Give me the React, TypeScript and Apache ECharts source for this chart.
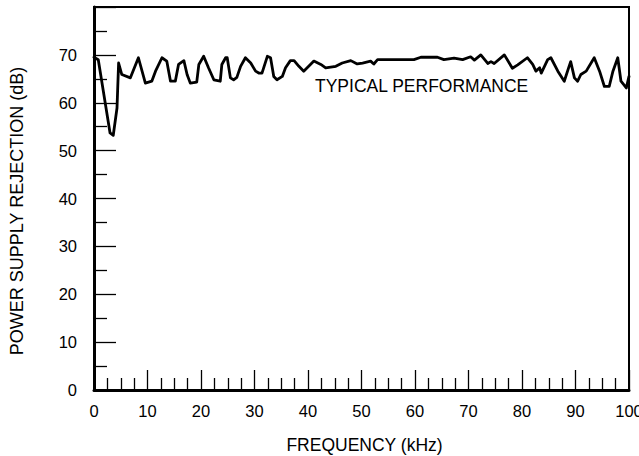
import React, { useEffect, useRef } from "react";
import * as echarts from "echarts";

const freqKHz = [
  0, 0.8, 3.0, 3.6, 4.3, 4.6, 5.2, 6.8, 8.3, 9.6, 10.8, 11.5, 12.7, 13.6, 14.3, 15.2, 15.8,
  16.8, 17.4, 18.0, 19.2, 19.6, 20.5, 21.4, 22.4, 23.6, 23.9, 24.6, 24.9, 25.5, 26.1, 26.7,
  27.4, 28.3, 29.3, 30.2, 30.8, 31.4, 32.4, 33.0, 33.6, 34.2, 35.2, 35.8, 36.7, 37.4, 38.3,
  39.2, 41.1, 42.4, 43.3, 45.2, 46.4, 48.0, 49.2, 50.2, 51.7, 52.3, 53.0, 54.2, 59.8, 61.1,
  64.2, 65.4, 67.3, 68.9, 70.4, 71.1, 72.3, 73.6, 74.2, 74.8, 76.7, 78.2, 79.2, 81.0, 82.0,
  82.6, 83.3, 83.6, 84.8, 85.4, 86.7, 87.9, 88.8, 89.1, 89.8, 90.4, 91.0, 92.0, 93.5, 94.5,
  95.4, 96.3, 97.0, 97.9, 98.5, 99.5, 100,
];

const psrDb = [
  69.5, 69.0, 53.7, 53.2, 58.9, 68.3, 65.9, 65.2, 69.4, 64.1, 64.5, 66.6, 69.4, 68.7, 64.5,
  64.5, 68.0, 68.8, 65.9, 64.1, 64.3, 68.0, 69.7, 67.3, 64.8, 64.5, 68.0, 69.4, 69.4, 65.2,
  64.8, 65.3, 67.6, 69.4, 68.3, 66.6, 66.2, 66.2, 69.7, 69.4, 65.5, 64.8, 65.5, 67.3, 68.8,
  68.8, 67.6, 66.6, 68.7, 68.0, 67.3, 67.6, 68.3, 68.8, 68.1, 68.3, 68.7, 68.1, 69.0, 69.0,
  69.0, 69.5, 69.5, 69.0, 69.3, 69.0, 69.6, 68.9, 70.0, 68.2, 68.6, 68.2, 70.0, 67.2, 67.9,
  69.4, 68.0, 66.6, 67.3, 66.2, 69.0, 69.4, 66.6, 64.5, 67.6, 68.6, 65.2, 64.5, 65.9, 66.6,
  69.4, 66.6, 63.4, 63.4, 66.6, 69.4, 64.5, 63.1, 65.5,
];

const xTickLabels = ["0", "10", "20", "30", "40", "50", "60", "70", "80", "90", "100"];
const yTickLabels = ["0", "10", "20", "30", "40", "50", "60", "70"];

const xTitle = "FREQUENCY (kHz)";
const yTitle = "POWER SUPPLY REJECTION (dB)";
const annotation = "TYPICAL PERFORMANCE";

const FONT = "'Liberation Sans', Arial, Helvetica, sans-serif";

export default function App() {
  const ref = useRef<HTMLDivElement>(null);

  useEffect(() => {
    if (!ref.current) return;
    const chart = echarts.init(ref.current, undefined, { renderer: "svg" });
    const data = freqKHz.map((f, i) => [f, psrDb[i]]);
    chart.setOption({
      animation: false,
      backgroundColor: "#ffffff",
      textStyle: { fontFamily: FONT, color: "#000" },
      grid: {
        left: 94,
        right: 10,
        top: 7,
        bottom: 66,
        show: true,
        borderColor: "#000",
        borderWidth: 2,
        outerBoundsMode: "none",
        containLabel: false,
      },
      xAxis: {
        type: "value",
        min: 0,
        max: 100,
        interval: 10,
        name: xTitle,
        nameLocation: "middle",
        nameGap: 46,
        nameTextStyle: { fontFamily: FONT, fontSize: 17.5, color: "#000", padding: [0, 0, 0, 6] },
        axisLine: { show: true, onZero: false, lineStyle: { color: "#000", width: 3 } },
        axisTick: { show: true, inside: true, length: 20, lineStyle: { color: "#000", width: 1.3 } },
        minorTick: { show: true, splitNumber: 4, length: 12, lineStyle: { color: "#000", width: 1.3 } },
        splitLine: { show: false },
        axisLabel: {
          fontFamily: FONT,
          fontSize: 16.5,
          color: "#000",
          margin: 12,
          formatter: (v: number) => xTickLabels[Math.round(v / 10)] ?? "",
        },
      },
      yAxis: {
        type: "value",
        min: 0,
        max: 80,
        interval: 10,
        axisLine: { show: true, onZero: false, lineStyle: { color: "#000", width: 3 } },
        axisTick: { show: true, inside: true, length: 22, lineStyle: { color: "#000", width: 1.3 } },
        minorTick: { show: true, splitNumber: 2, length: 13, lineStyle: { color: "#000", width: 1.3 } },
        splitLine: { show: false },
        axisLabel: {
          fontFamily: FONT,
          fontSize: 16.5,
          color: "#000",
          margin: 17,
          formatter: (v: number) => yTickLabels[Math.round(v / 10)] ?? "",
        },
      },
      graphic: [
        {
          type: "text",
          x: 17,
          y: 211,
          rotation: Math.PI / 2,
          style: {
            text: yTitle,
            font: `18px ${FONT}`,
            fill: "#000",
            align: "center",
            verticalAlign: "middle",
          },
        },
        {
          type: "text",
          left: 315,
          top: 77,
          style: { text: annotation, font: `17.5px ${FONT}`, fill: "#000" },
        },
      ],
      series: [
        {
          type: "line",
          data,
          showSymbol: false,
          symbol: "none",
          smooth: false,
          lineStyle: { color: "#000", width: 2.8, join: "round", cap: "round" },
        },
      ],
    });
    return () => chart.dispose();
  }, []);

  return (
    <div
      ref={ref}
      style={{ position: "fixed", left: 0, top: 0, width: 639, height: 456, background: "#fff" }}
    />
  );
}
